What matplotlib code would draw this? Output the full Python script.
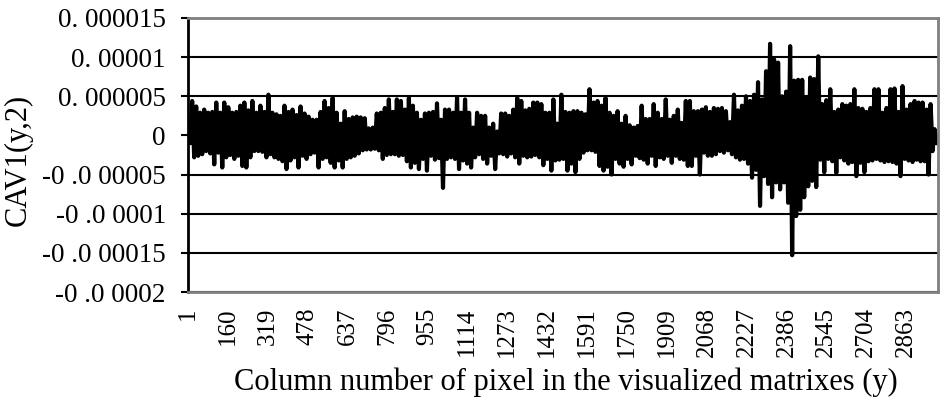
import numpy as np
import matplotlib.pyplot as plt

plt.rcParams['font.family'] = ['Liberation Serif', 'DejaVu Serif']

# number of columns on the category axis and spacing of the read-off samples
n_cols = 2990
step = 8

# read-off local maxima / minima (units of 1e-6), left to right
peaks_a = [1.0, 4.4, 3.7, 2.9, 3.3, 2.9, 3.0, 4.2, 2.9, 4.2, 3.6, 2.9, 3.0, 3.8, 4.2, 3.2,
           4.4, 2.9, 3.8, 3.0, 5.2, 2.9, 2.7, 2.5, 3.8, 3.0, 3.3, 2.6, 3.7, 2.8, 2.4, 2.0]
troughs_a = [-1.0, -2.8, -2.6, -2.4, -2.0, -2.3, -3.7, -2.2, -4.1, -2.8, -2.5, -3.0, -2.6, -3.9, -4.1, -2.8,
             -2.0, -2.0, -2.1, -2.8, -2.4, -2.8, -3.0, -3.3, -4.3, -3.2, -2.8, -4.1, -2.6, -3.0, -2.4, -2.2]

peaks_b = [2.0, 3.0, 4.4, 3.5, 4.8, 2.9, 1.5, 3.1, 2.1, 2.3, 2.4, 2.3, 2.2, 0.9, 1.0, 2.8,
           2.9, 3.5, 4.6, 3.0, 4.6, 4.4, 3.3, 4.8, 3.8, 2.9, 2.0, 2.8, 2.9, 3.0, 4.1]
troughs_b = [-4.1, -3.0, -2.8, -3.5, -4.1, -3.2, -4.1, -3.0, -2.8, -2.6, -2.3, -1.9, -1.8, -1.8, -1.7, -1.9,
             -3.0, -2.5, -2.4, -2.4, -2.6, -2.5, -3.3, -4.1, -3.5, -4.3, -3.0, -4.5, -2.6, -3.1, -2.9]

peaks_c = [2.0, 3.3, 3.3, 2.9, 4.8, 2.9, 4.6, 2.9, 1.0, 2.9, 2.5, 2.5, 1.0, 1.5, 0.5, 2.8,
           2.8, 2.5, 3.3, 4.8, 4.4, 3.2, 3.4, 4.2, 4.2, 4.0, 2.9, 2.9, 4.6, 1.5, 5.2]
troughs_c = [-6.7, -3.0, -2.8, -3.0, -4.3, -3.2, -3.6, -4.1, -2.8, -2.4, -3.0, -3.6, -2.6, -4.3, -2.3, -2.4,
             -2.7, -2.3, -2.8, -3.6, -2.6, -2.8, -2.7, -2.5, -2.8, -3.8, -3.0, -4.5, -3.2, -3.1, -3.0]

peaks_d = [3.0, 2.9, 3.1, 3.1, 2.9, 2.7, 5.9, 4.2, 4.4, 3.8, 4.8, 2.9, 2.5, 3.1, 1.5, 2.5,
           1.3, 1.0, 1.2, 3.8, 2.1, 2.1, 4.0, 2.9, 2.1, 4.6, 2.0, 2.5, 3.3, 1.6, 4.4]
troughs_d = [-4.5, -3.6, -4.7, -3.0, -2.2, -1.9, -1.9, -2.1, -3.9, -4.5, -4.0, -5.0, -3.0, -3.6, -4.0, -3.0,
             -3.7, -2.6, -2.9, -3.1, -3.6, -2.6, -3.9, -2.8, -3.0, -2.6, -3.5, -2.6, -3.0, -3.1, -3.9]

peaks_e = [4.4, 3.1, 3.1, 3.3, 3.6, 3.0, 3.5, 3.4, 3.5, 3.1, 1.7, 5.2, 3.2, 3.8, 5.0, 4.4,
           5.2, 6.8, 4.6, 8.2, 11.7, 9.7, 9.3, 5.0, 5.6, 11.4, 7.0, 7.1, 7.1, 4.9, 7.4, 7.2,
           10.1, 4.0, 4.5, 5.9, 3.0, 3.3, 4.0, 3.8, 4.0, 5.9, 3.5, 3.4, 3.0, 3.5, 5.9, 5.9,
           2.9, 3.5, 5.9, 6.0, 3.0, 6.3, 3.3, 4.0, 4.4, 4.2, 4.2, 3.3, 4.0, 0.8]
troughs_e = [-3.9, -2.6, -5.0, -2.2, -2.6, -2.6, -2.4, -2.0, -2.2, -1.9, -2.4, -2.8, -3.1, -3.0, -3.6, -5.4,
             -4.4, -9.0, -5.2, -6.2, -7.9, -6.0, -6.9, -6.0, -8.6, -15.3, -10.3, -9.5, -7.9, -6.5, -5.8, -6.6,
             -3.1, -4.7, -3.0, -3.3, -4.8, -2.8, -3.2, -3.6, -3.4, -5.2, -3.5, -4.7, -3.3, -3.2, -3.0, -3.2,
             -3.4, -3.3, -3.4, -3.6, -5.2, -3.0, -3.2, -3.4, -3.1, -3.3, -3.3, -5.0, -2.0, -1.0]

xtick_labels = ['1', '160', '319', '478', '637', '796', '955', '1114', '1273', '1432',
                '1591', '1750', '1909', '2068', '2227', '2386', '2545', '2704', '2863']
ytick_vals = [1.5e-5, 1e-5, 5e-6, 0, -5e-6, -1e-5, -1.5e-5, -2e-5]
ytick_labels = ['0. 000015', '0. 00001', '0. 000005', '0',
                '-0 .0 00005', '-0 .0 0001', '-0 .0 00015', '-0 .0 0002']

peaks = peaks_a + peaks_b + peaks_c + peaks_d + peaks_e
troughs = troughs_a + troughs_b + troughs_c + troughs_d + troughs_e
values = np.empty(2 * len(peaks))
values[0::2] = peaks
values[1::2] = troughs
values *= 1e-6
cols = 1 + step * np.arange(len(values))

fig = plt.figure(figsize=(9.43, 4.05), dpi=100)
ax = fig.add_axes([0.1994, 0.279, 0.7953, 0.6766])

ax.plot(cols, values, color='black', lw=3.0, solid_joinstyle='round', solid_capstyle='round')

ax.set_xlim(0.5, n_cols + 0.5)
ax.set_ylim(-2e-5, 1.5e-5)
ax.set_yticks(ytick_vals)
ax.set_yticklabels(ytick_labels, fontsize=19.5)
ax.set_xticks([int(t) for t in xtick_labels])
ax.set_xticklabels(xtick_labels, rotation=90, fontsize=18)

ax.set_axisbelow(True)
ax.grid(axis='y', color='black', lw=1.5)
ax.tick_params(axis='x', length=0, pad=11)
ax.tick_params(axis='y', length=5, width=1.5, direction='out', pad=11)

for side in ['top', 'right', 'bottom']:
    ax.spines[side].set_color('#808080')
    ax.spines[side].set_linewidth(2)
ax.spines['left'].set_color('black')
ax.spines['left'].set_linewidth(2)

fig.text(18 / 943, 1 - 160 / 405, 'CAV1(y,2)', rotation=90, ha='center', va='center', fontsize=22)
fig.text(566 / 943, 1 - 382 / 405, 'Column number of pixel in the visualized matrixes (y)',
         ha='center', va='center', fontsize=22)

plt.savefig('out.png', dpi=100)
